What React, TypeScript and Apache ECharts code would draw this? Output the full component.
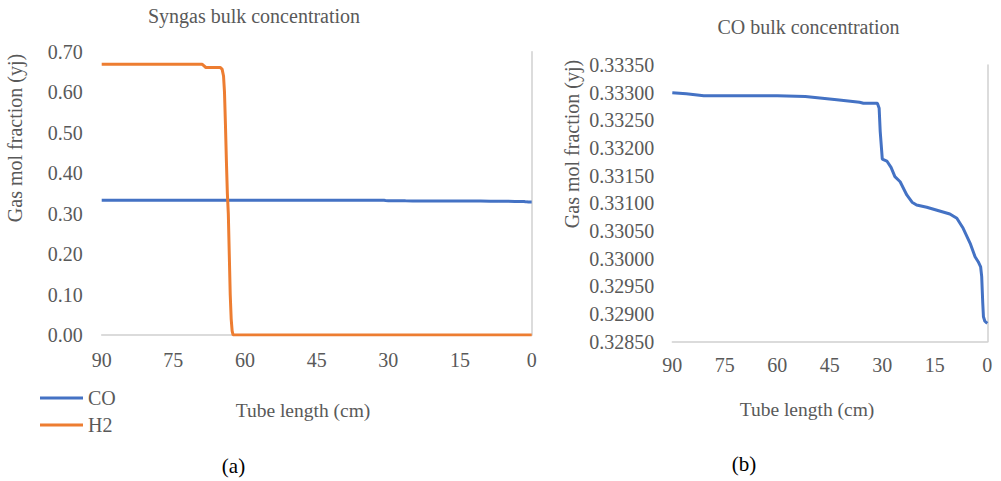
import React, { useEffect, useRef } from "react";
import * as echarts from "echarts";

// Tube length positions (cm) and CO mole fraction (same profile in both panels)
const coX = [90, 86, 81, 70, 60, 52, 43, 36.5, 35.4, 31.4, 30.9, 30.6, 30.0, 28.7, 27.5, 26.4, 24.9, 23.0, 21.5, 20.2, 17.3, 10.7, 8.7, 6.9, 4.9, 3.5, 2.6, 1.9, 1.6, 1.3, 1.1, 0.7, 0];
const coY = [0.333, 0.33298, 0.332945, 0.332945, 0.332945, 0.33293, 0.33287, 0.332826, 0.332808, 0.332808, 0.332717, 0.3323, 0.331801, 0.331765, 0.33165, 0.331482, 0.331391, 0.331151, 0.33102, 0.33097, 0.330929, 0.330808, 0.33073, 0.330549, 0.330278, 0.330036, 0.329946, 0.32985, 0.329675, 0.3292, 0.32895, 0.32887, 0.328832];

// H2 mole fraction
const h2X = [90, 69, 68.7, 68.2, 65.2, 64.8, 64.5, 64.3, 64.1, 63.9, 63.7, 63.5, 63.3, 63.1, 62.9, 62.7, 62.5, 0];
const h2Y = [0.669, 0.669, 0.666, 0.661, 0.661, 0.657, 0.64, 0.6, 0.52, 0.43, 0.35, 0.3, 0.2, 0.1, 0.04, 0.01, 0.0, 0.0];

const xTicks = [90, 75, 60, 45, 30, 15, 0];
const leftYTicks = [0, 0.1, 0.2, 0.3, 0.4, 0.5, 0.6, 0.7];
const rightYTicks = [0.3285, 0.329, 0.3295, 0.33, 0.3305, 0.331, 0.3315, 0.332, 0.3325, 0.333, 0.3335];

const seriesNames = ["CO", "H2"];
const titles = ["Syngas bulk concentration", "CO bulk concentration"];
const axisNameX = "Tube length (cm)";
const axisNameY = "Gas mol fraction (yj)";
const panelLabels = ["(a)", "(b)"];

const FONT = "Liberation Serif";
const GRAY = "#595959";
const LINE_GRAY = "#d0d0d0";
const BLUE = "#4472C4";
const ORANGE = "#ED7D31";

const zip = (xs: number[], ys: number[]) => xs.map((x, i) => [x, ys[i]]);

export default function App() {
  const ref = useRef<HTMLDivElement>(null);

  useEffect(() => {
    if (!ref.current) return;
    const chart = echarts.init(ref.current, undefined, { renderer: "svg" });

    const xAxisBase = (gridIndex: number, margin: number) => ({
      type: "value",
      gridIndex,
      min: xTicks[xTicks.length - 1],
      max: xTicks[0],
      interval: 15,
      inverse: true,
      axisLine: { show: true, onZero: false, lineStyle: { color: LINE_GRAY, width: 1.5 } },
      axisTick: { show: false },
      splitLine: { show: false },
      axisLabel: { color: GRAY, fontSize: 20, fontFamily: FONT, margin },
    });

    const lineOnlyY = (gridIndex: number, min: number, max: number, interval: number) => ({
      type: "value",
      gridIndex,
      position: "right",
      min,
      max,
      interval,
      axisLine: { show: true, onZero: false, lineStyle: { color: LINE_GRAY, width: 1.5 } },
      axisTick: { show: false },
      axisLabel: { show: false },
      splitLine: { show: false },
    });

    const txt = (x: number, y: number, text: string, size: number, fill: string, rotation = 0) => ({
      type: "text",
      x,
      y,
      rotation,
      style: { text, fill, fontSize: size, fontFamily: FONT, align: "center", verticalAlign: "middle" },
    });

    const option: any = {
      animation: false,
      backgroundColor: "#ffffff",
      textStyle: { fontFamily: FONT },
      grid: [
        { left: 101.7, top: 51.7, width: 430, height: 283.3, outerBoundsMode: "none", containLabel: false },
        { left: 672.3, top: 65, width: 315, height: 276.7, outerBoundsMode: "none", containLabel: false },
      ],
      xAxis: [xAxisBase(0, 15), xAxisBase(1, 13)],
      yAxis: [
        {
          type: "value",
          gridIndex: 0,
          position: "left",
          min: leftYTicks[0],
          max: leftYTicks[leftYTicks.length - 1],
          interval: 0.1,
          axisLine: { show: false, onZero: false },
          axisTick: { show: false },
          splitLine: { show: false },
          axisLabel: {
            color: GRAY,
            fontSize: 20,
            fontFamily: FONT,
            margin: 19,
            formatter: (v: number) => v.toFixed(2),
          },
        },
        lineOnlyY(0, leftYTicks[0], leftYTicks[leftYTicks.length - 1], 0.1),
        {
          type: "value",
          gridIndex: 1,
          position: "left",
          min: rightYTicks[0],
          max: rightYTicks[rightYTicks.length - 1],
          interval: 0.0005,
          axisLine: { show: false, onZero: false },
          axisTick: { show: false },
          splitLine: { show: false },
          axisLabel: {
            color: GRAY,
            fontSize: 20,
            fontFamily: FONT,
            margin: 18,
            formatter: (v: number) => v.toFixed(5),
          },
        },
        lineOnlyY(1, rightYTicks[0], rightYTicks[rightYTicks.length - 1], 0.0005),
      ],
      legend: {
        data: seriesNames.map((n) => ({ name: n, icon: "rect" })),
        orient: "vertical",
        left: 40,
        top: 388,
        padding: 0,
        itemWidth: 43,
        itemHeight: 3,
        itemGap: 7,
        textStyle: { color: GRAY, fontSize: 20, fontFamily: FONT },
        selectedMode: false,
      },
      series: [
        {
          name: seriesNames[0],
          type: "line",
          xAxisIndex: 0,
          yAxisIndex: 0,
          data: zip(coX, coY),
          showSymbol: false,
          lineStyle: { color: BLUE, width: 3 },
          itemStyle: { color: BLUE },
          z: 2,
        },
        {
          name: seriesNames[1],
          type: "line",
          xAxisIndex: 0,
          yAxisIndex: 0,
          data: zip(h2X, h2Y),
          showSymbol: false,
          lineStyle: { color: ORANGE, width: 3 },
          itemStyle: { color: ORANGE },
          z: 3,
        },
        {
          name: "CO bulk",
          type: "line",
          xAxisIndex: 1,
          yAxisIndex: 2,
          data: zip(coX, coY),
          showSymbol: false,
          lineStyle: { color: BLUE, width: 3 },
          itemStyle: { color: BLUE },
        },
      ],
      graphic: [
        txt(254, 16, titles[0], 20, GRAY),
        txt(808.5, 27, titles[1], 20, GRAY),
        txt(15, 138, axisNameY, 20, GRAY, Math.PI / 2),
        txt(571.7, 144, axisNameY, 20, GRAY, Math.PI / 2),
        txt(303, 410, axisNameX, 19.5, GRAY),
        txt(807, 409, axisNameX, 19.5, GRAY),
        txt(233.5, 466, panelLabels[0], 21, "#000000"),
        txt(744, 464, panelLabels[1], 21, "#000000"),
      ],
    };

    chart.setOption(option);
    return () => chart.dispose();
  }, []);

  return (
    <div
      ref={ref}
      style={{ position: "fixed", left: 0, top: 0, width: 1001, height: 481, background: "#fff" }}
    />
  );
}
